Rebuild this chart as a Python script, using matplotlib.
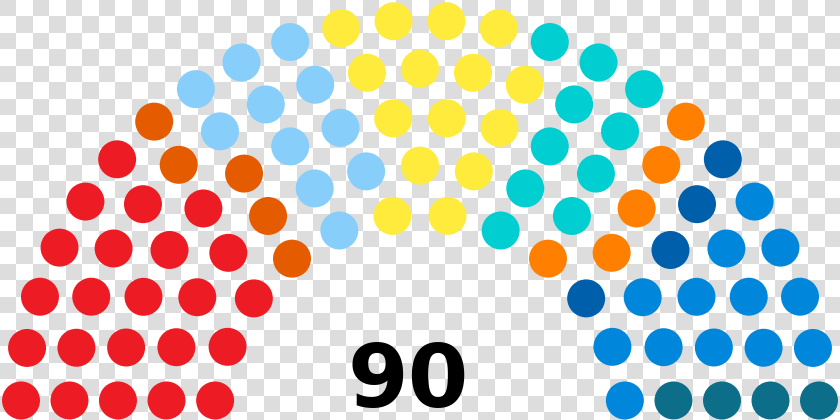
import math
import numpy as np
import matplotlib
matplotlib.use("Agg")
import matplotlib.pyplot as plt
from matplotlib.patches import Circle

# seats per party, left to right
seats = [23, 5, 11, 15, 10, 5, 4, 13, 4]
colors = ["#ED1C24", "#E55B00", "#87CEFA", "#FFEB3B", "#00CED1",
          "#FF8000", "#005FAA", "#0087DC", "#0D6E8A"]
total_label = "90"


def seat_positions(n):
    # same arc layout as the usual parliament diagram tool
    totals = [3, 15, 33, 61, 95, 138, 189, 247, 313, 388, 469, 559]
    rows = next(i + 1 for i, t in enumerate(totals) if t >= n)
    rad = 0.4 / rows
    pos = []

    def add_row(J, R):
        if J == 1:
            pos.append([math.pi / 2, 0.0, R])
            return
        for j in range(J):
            a = j * (math.pi - 2 * math.sin(rad / R)) / (J - 1) + math.sin(rad / R)
            pos.append([a, R * math.cos(a), R * math.sin(a)])

    for i in range(1, rows):
        J = int(n / totals[rows - 1] * math.pi / (2 * math.asin(2.0 / (3 * rows + 4 * i - 2))))
        add_row(J, (3.0 * rows + 4 * i - 2) / (4.0 * rows))
    add_row(n - len(pos), (7.0 * rows - 2) / (4.0 * rows))
    pos.sort(reverse=True)
    return pos, rad


fig = plt.figure(figsize=(8.4, 4.2), dpi=100)
ax = fig.add_axes([0, 0, 1, 1])
ax.set_xlim(0, 840)
ax.set_ylim(420, 0)
ax.axis("off")

# checkerboard background
sq = 16.5
nr, nc = 26, 52
rr, cc = np.indices((nr, nc))
bg = np.where(((rr + cc) % 2 == 0)[..., None], 221 / 255, 1.0) * np.ones((nr, nc, 3))
ax.imshow(bg, extent=[0, nc * sq, nr * sq, 0], interpolation="nearest", aspect="auto", zorder=0)

scale = 242.1
cx, cy = 420, 419.8
pos, rad = seat_positions(sum(seats))
seat_colors = [c for c, k in zip(colors, seats) for _ in range(k)]
for (a, x, y), c in zip(pos, seat_colors):
    ax.add_patch(Circle((cx + scale * x, cy - scale * y), rad * scale * 0.98,
                        facecolor=c, edgecolor="none", zorder=2))

ax.text(408, 407.5, total_label, ha="center", va="baseline", fontsize=62.8,
        fontweight="bold", family="DejaVu Sans", color="black", zorder=3)

fig.savefig("out.png", dpi=100)
